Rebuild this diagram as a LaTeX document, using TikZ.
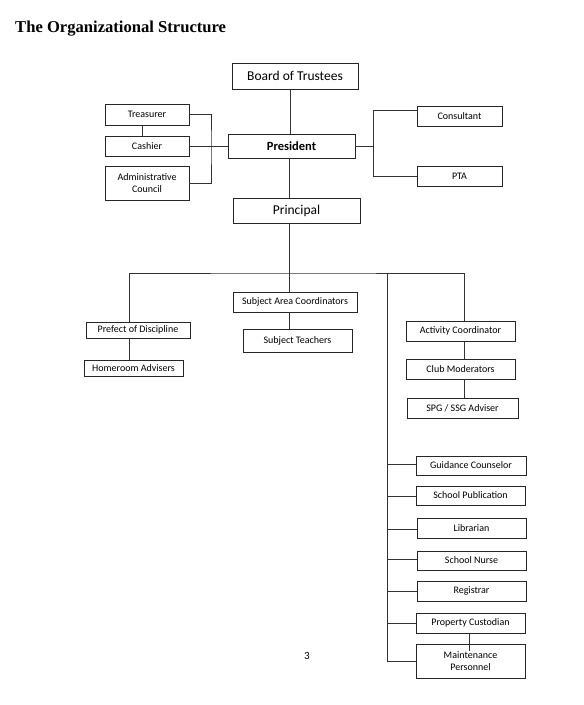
\documentclass[tikz,border=0pt]{standalone}
\usepackage{fontspec}
\setmainfont{Carlito}
\newfontfamily\titlefont{Liberation Serif}
\usetikzlibrary{calc}
\newcommand\bx[7][]{%
  \node[box,#1,minimum width={(#5-#3)*1pt},minimum height={(#6-#4)*1pt}]
    (#2) at ({(#3+#5)/2},{(#4+#6)/2}) {#7};}
\begin{document}
\begin{tikzpicture}[x=1pt,y=-1pt,
  box/.style={draw=black!85, line width=0.9pt, inner sep=0pt, align=center,
    font=\fontsize{10}{12.5}\selectfont},
  big/.style={font=\fontsize{13.5}{15}\selectfont},
  conn/.style={draw=black!80, line width=0.9pt}]
\useasboundingbox (0,0) rectangle (584,705);
\fill[white] (0,0) rectangle (584,705);
\node[anchor=base west, inner sep=0pt, font=\titlefont\bfseries\fontsize{16.6}{18}\selectfont] (title) at (15,32) {The Organizational Structure};
% top
\bx[big]{bot}{232}{63}{358}{89}{Board of Trustees}
\bx{tre}{105}{104}{189}{125}{Treasurer}
\bx{cas}{105}{136}{189}{156}{Cashier}
\bx{adm}{105}{166}{189}{200}{Administrative\\Council}
\bx[font=\fontsize{12.5}{14}\selectfont\bfseries]{pre}{228}{134}{355}{158}{President}
\bx{con}{417}{106}{502}{126}{Consultant}
\bx{pta}{417}{166}{502}{186}{PTA}
\bx[big]{pri}{233}{198}{360}{223}{Principal}
% middle
\bx{pod}{86}{322}{190}{338}{Prefect of Discipline}
\bx{hra}{84}{360}{183}{376}{Homeroom Advisers}
\bx{sac}{233}{292}{357}{312}{Subject Area Coordinators}
\bx{stc}{243}{329}{352}{352}{Subject Teachers}
\bx{acc}{406}{321}{515}{341}{Activity Coordinator}
\bx{clm}{406}{359}{515}{379}{Club Moderators}
\bx{spg}{407}{398}{518}{418}{SPG / SSG Adviser}
% list
\bx{gui}{416}{456}{526}{475}{Guidance Counselor}
\bx{spu}{416}{486}{525}{505}{School Publication}
\bx{lib}{417}{518}{526}{538}{Librarian}
\bx{snu}{417}{551}{526}{570}{School Nurse}
\bx{reg}{417}{581}{526}{601}{Registrar}
\bx{prc}{416}{613}{525}{633}{Property Custodian}
\bx{mnt}{416}{644}{525}{678}{Maintenance\\Personnel}
\node[font=\fontsize{11}{12}\selectfont, inner sep=0pt] (page) at (307,656) {3};
% coordinates
\coordinate (lb) at (211,146);
\coordinate (rb) at (373,146);
\coordinate (hl) at (290,273);
\coordinate (rail) at (387,273);
\coordinate (railend) at (387,661);
% connectors
\draw[conn] (bot.south -| 290,0) -- (pre.north -| 290,0);
\draw[conn] (pre.south -| 289,0) -- (pri.north -| 289,0);
\draw[conn] (tre.south -| 142,0) -- (cas.north -| 142,0);
\draw[conn] (cas.east) -- (cas.east -| pre.west);
\draw[conn] (tre.east) -| (lb) |- (adm.east);
\draw[conn] (pre.east) -- (pre.east -| rb);
\draw[conn] (rb |- con.north) ++(0,5) coordinate (ct) (ct -| con.west) -- (ct) |- (pta.west);
\draw[conn] (pri.south -| 289,0) -- (hl -| 289,0);
\draw[conn] (pod.north -| 129,0) |- (hl) -| (acc.north -| 464,0);
\draw[conn] (sac.north -| 289,0) -- (hl -| 289,0);
\draw[conn] (sac.south -| 289,0) -- (stc.north -| 289,0);
\draw[conn] (pod.south -| 129,0) -- (hra.north -| 129,0);
\draw[conn] (acc.south -| 464,0) -- (clm.north -| 464,0);
\draw[conn] (clm.south -| 464,0) -- (spg.north -| 464,0);
\draw[conn] (rail) -- (railend) -- (railend -| mnt.west);
\foreach \n/\y in {gui/464,spu/496,lib/529,snu/559,reg/591,prc/623}
  \draw[conn] (\n.west |- 0,\y) -- (387,\y);
\draw[conn] (prc.south -| 469,0) -- ($(mnt.north -| 469,0)+(0,7)$);
\end{tikzpicture}
\end{document}
